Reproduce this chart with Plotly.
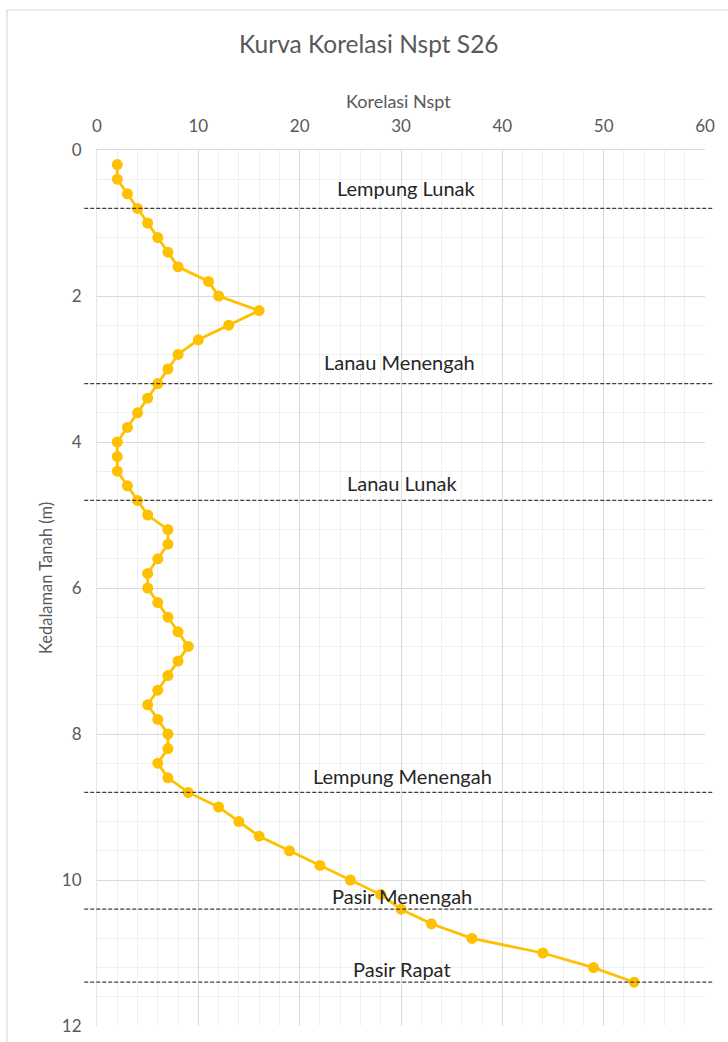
import plotly.graph_objects as go

# Depth of each reading (m)
kedalaman = [0.2, 0.4, 0.6, 0.8, 1.0, 1.2, 1.4, 1.6, 1.8, 2.0,
             2.2, 2.4, 2.6, 2.8, 3.0, 3.2, 3.4, 3.6, 3.8, 4.0,
             4.2, 4.4, 4.6, 4.8, 5.0, 5.2, 5.4, 5.6, 5.8, 6.0,
             6.2, 6.4, 6.6, 6.8, 7.0, 7.2, 7.4, 7.6, 7.8, 8.0,
             8.2, 8.4, 8.6, 8.8, 9.0, 9.2, 9.4, 9.6, 9.8, 10.0,
             10.2, 10.4, 10.6, 10.8, 11.0, 11.2, 11.4]

# Correlated Nspt value at each depth
nspt = [2, 2, 3, 4, 5, 6, 7, 8, 11, 12,
        16, 13, 10, 8, 7, 6, 5, 4, 3, 2,
        2, 2, 3, 4, 5, 7, 7, 6, 5, 5,
        6, 7, 8, 9, 8, 7, 6, 5, 6, 7,
        7, 6, 7, 9, 12, 14, 16, 19, 22, 25,
        28, 30, 33, 37, 44, 49, 53]

# Soil layer boundaries (m) and the layer names written above them
batas_lapisan = [0.8, 3.2, 4.8, 8.8, 10.4, 11.4]
nama_lapisan = ["Lempung Lunak", "Lanau Menengah", "Lanau Lunak",
                "Lempung Menengah", "Pasir Menengah", "Pasir Rapat"]
posisi_label_x = [30.5, 29.9, 30.1, 30.1, 30.1, 30.1]
posisi_label_y = [0.52, 2.90, 4.56, 8.58, 10.22, 11.22]

x_ticks = [0, 10, 20, 30, 40, 50, 60]
y_ticks = [0, 2, 4, 6, 8, 10, 12]

FONT = "Lato"
GOLD = "#FFC000"
TEXT_GRAY = "#595959"

# plot-area geometry in pixels
L, R, T, B = 97, 705, 150, 1026
W_PLOT, H_PLOT = R - L, B - T


def px_to_paper(px, py):
    return (px - L) / W_PLOT, (B - py) / H_PLOT


fig = go.Figure()

fig.add_trace(go.Scatter(
    x=nspt, y=kedalaman,
    mode="lines+markers",
    line=dict(color=GOLD, width=2.75),
    marker=dict(color=GOLD, size=11),
    showlegend=False,
))

shapes = []
for d in batas_lapisan:
    shapes.append(dict(
        type="line", xref="paper", yref="y",
        x0=-0.021, x1=1.015, y0=d, y1=d,
        line=dict(color="#404040", width=1.3, dash="4px,2px"),
        layer="above",
    ))

# chart frame
fx0, fy0 = px_to_paper(7, 1060)
fx1, fy1 = px_to_paper(740, 10)
shapes.append(dict(
    type="rect", xref="paper", yref="paper",
    x0=fx0, x1=fx1, y0=fy0, y1=fy1,
    line=dict(color="#d9d9d9", width=1.2),
    layer="below",
))

annotations = []
for name, lx, ly in zip(nama_lapisan, posisi_label_x, posisi_label_y):
    annotations.append(dict(
        x=lx, y=ly, xref="x", yref="y", text=name, showarrow=False,
        font=dict(family=FONT, size=20, color="#262626"),
        xanchor="center", yanchor="middle",
    ))

tx, ty = px_to_paper(369, 43)
annotations.append(dict(
    x=tx, y=ty, xref="paper", yref="paper",
    text="Kurva Korelasi Nspt S26", showarrow=False,
    font=dict(family=FONT, size=24.5, color=TEXT_GRAY),
    xanchor="center", yanchor="middle",
))
ax_x, ax_y = px_to_paper(398, 101)
annotations.append(dict(
    x=ax_x, y=ax_y, xref="paper", yref="paper",
    text="Korelasi Nspt", showarrow=False,
    font=dict(family=FONT, size=18, color=TEXT_GRAY),
    xanchor="center", yanchor="middle",
))
ay_x, ay_y = px_to_paper(46, 578)
annotations.append(dict(
    x=ay_x, y=ay_y, xref="paper", yref="paper",
    text="Kedalaman Tanah (m)", showarrow=False, textangle=-90,
    font=dict(family=FONT, size=16.5, color=TEXT_GRAY),
    xanchor="center", yanchor="middle",
))

fig.update_layout(
    width=728, height=1042,
    margin=dict(l=L, r=728 - R, t=T, b=1042 - B, pad=0),
    paper_bgcolor="white", plot_bgcolor="white",
    shapes=shapes, annotations=annotations,
    font=dict(family=FONT, color=TEXT_GRAY, size=17),
)

fig.update_xaxes(
    side="top", range=[0, 60], automargin=False,
    tickvals=x_ticks, ticktext=[str(v) for v in x_ticks],
    showgrid=True, gridcolor="#d9d9d9", gridwidth=1,
    minor=dict(dtick=2, showgrid=True, gridcolor="#f0f0f0", gridwidth=1),
    showline=True, linecolor="#d9d9d9", linewidth=1, mirror=False,
    zeroline=False, ticks="", ticklabelstandoff=10,
    tickfont=dict(family=FONT, size=17, color=TEXT_GRAY),
)
fig.update_yaxes(
    range=[12, 0], automargin=False,
    tickvals=y_ticks, ticktext=[str(v) for v in y_ticks],
    showgrid=True, gridcolor="#d9d9d9", gridwidth=1,
    minor=dict(dtick=0.4, showgrid=True, gridcolor="#f0f0f0", gridwidth=1),
    showline=True, linecolor="#e6e6e6", linewidth=1,
    zeroline=False, ticks="", ticklabelstandoff=11,
    tickfont=dict(family=FONT, size=17, color=TEXT_GRAY),
)

fig.write_html("out.html")
